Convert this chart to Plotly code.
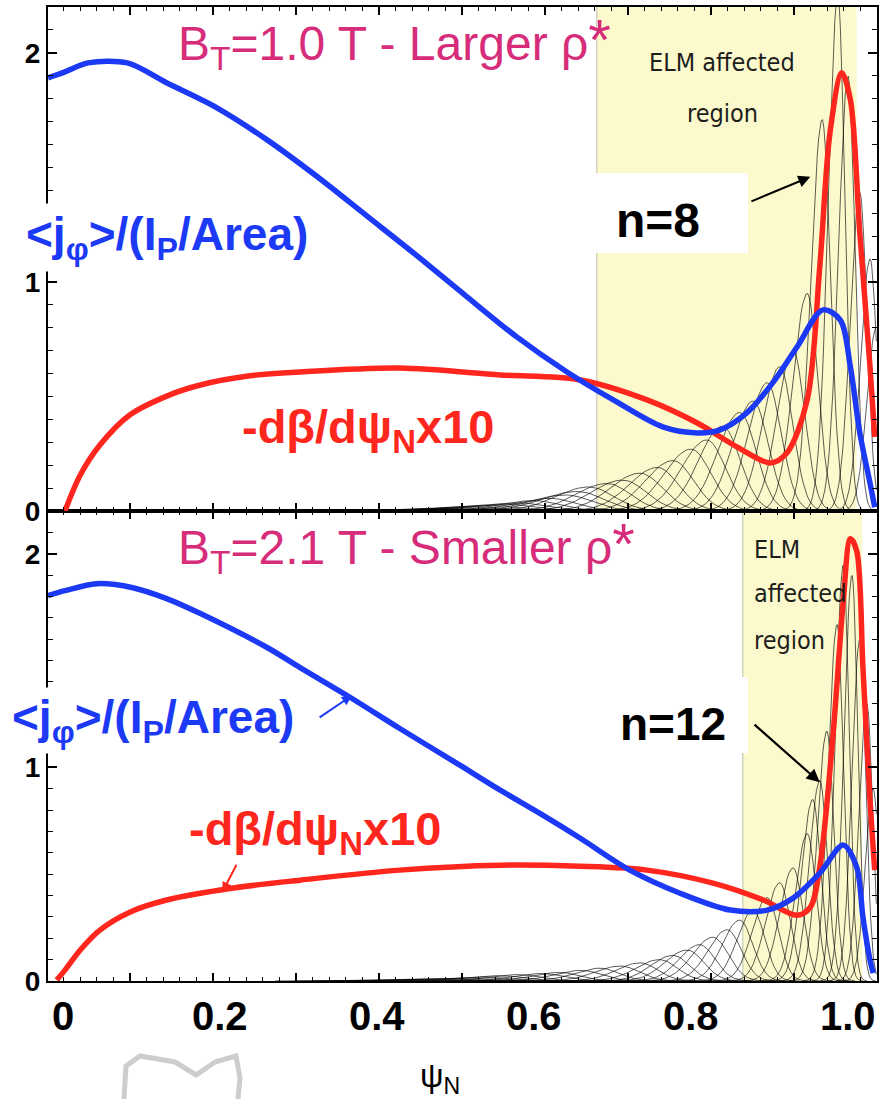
import numpy as np
import plotly.graph_objects as go

# ---------------- data ----------------
psi_ticks = [0, 0.2, 0.4, 0.6, 0.8, 1.0]
psi_tick_text = ["0", "0.2", "0.4", "0.6", "0.8", "1.0"]

# top panel (B_T = 1.0 T)
top_j_x = [-0.019, 0.0025, 0.032, 0.082, 0.132, 0.196, 0.260, 0.324, 0.387, 0.451, 0.515, 0.578,
           0.642, 0.701, 0.764, 0.808, 0.837, 0.871, 0.904, 0.935, 0.968, 0.990, 1.003,
           1.015, 1.028, 1.034]
top_j_y = [1.891, 1.917, 1.956, 1.956, 1.869, 1.760, 1.620, 1.459, 1.288, 1.114, 0.934, 0.760,
           0.607, 0.485, 0.367, 0.341, 0.354, 0.428, 0.559, 0.716, 0.878, 0.834, 0.629,
           0.341, 0.122, 0.017]
top_p_x = [0.0025, 0.022, 0.047, 0.085, 0.136, 0.175, 0.238, 0.302, 0.429, 0.557, 0.659, 0.744,
           0.808, 0.859, 0.901, 0.922, 0.948, 0.964, 0.977, 0.992, 1.003, 1.015, 1.028, 1.034]
top_p_y = [0.0, 0.157, 0.288, 0.419, 0.507, 0.550, 0.590, 0.607, 0.624, 0.594, 0.572, 0.485,
           0.384, 0.279, 0.210, 0.253, 0.485, 1.066, 1.651, 1.913, 1.795, 1.214, 0.629, 0.323]

# bottom panel (B_T = 2.1 T)
bot_j_x = [-0.019, 0.0025, 0.043, 0.089, 0.132, 0.175, 0.260, 0.302, 0.366, 0.429, 0.506, 0.557,
           0.608, 0.659, 0.722, 0.786, 0.850, 0.897, 0.930, 0.964, 0.994, 1.011, 1.019, 1.028, 1.032]
bot_j_y = [1.804, 1.827, 1.860, 1.841, 1.790, 1.720, 1.561, 1.467, 1.327, 1.182, 1.009, 0.893,
           0.783, 0.668, 0.519, 0.411, 0.332, 0.332, 0.388, 0.505, 0.636, 0.533, 0.299, 0.098, 0.037]
bot_p_x = [-0.008, 0.0025, 0.022, 0.047, 0.085, 0.132, 0.217, 0.302, 0.429, 0.557, 0.659, 0.744,
           0.828, 0.892, 0.935, 0.952, 0.964, 0.981, 0.994, 1.003, 1.011, 1.019, 1.028, 1.034]
bot_p_y = [0.005, 0.051, 0.145, 0.238, 0.322, 0.379, 0.435, 0.472, 0.519, 0.542, 0.537, 0.519,
           0.458, 0.379, 0.308, 0.346, 0.533, 1.159, 1.780, 2.070, 2.014, 1.467, 0.846, 0.519]

# individual eigenmode envelopes (peak position, peak height, width)
top_mode_x0 = [0.46, 0.48, 0.50, 0.52, 0.54, 0.56, 0.58, 0.60, 0.62, 0.64, 0.655, 0.67, 0.693,
               0.713, 0.735, 0.757, 0.777, 0.80, 0.82, 0.84, 0.862, 0.879, 0.897, 0.913, 0.93,
               0.948, 0.967, 0.987, 1.0, 1.015, 1.028, 1.036]
top_mode_h = [0.010, 0.012, 0.015, 0.02, 0.025, 0.03, 0.035, 0.045, 0.055, 0.07, 0.085, 0.105,
              0.12, 0.135, 0.165, 0.19, 0.22, 0.27, 0.31, 0.37, 0.43, 0.48, 0.56, 0.63, 0.70,
              0.95, 1.71, 2.25, 1.90, 1.39, 1.10, 0.80]
top_mode_w = [0.05, 0.05, 0.05, 0.05, 0.05, 0.05, 0.05, 0.045, 0.045, 0.045, 0.045, 0.042, 0.04,
              0.04, 0.038, 0.036, 0.035, 0.034, 0.032, 0.03, 0.028, 0.026, 0.024, 0.022, 0.02,
              0.018, 0.014, 0.012, 0.012, 0.012, 0.012, 0.012]

bot_mode_x0 = [0.43, 0.455, 0.48, 0.506, 0.53, 0.557, 0.58, 0.61, 0.633, 0.66, 0.684, 0.71, 0.735,
               0.76, 0.777, 0.795, 0.811, 0.828, 0.846, 0.862, 0.879, 0.897, 0.913, 0.93, 0.948,
               0.955, 0.964, 0.973, 0.986, 0.994, 1.005, 1.015, 1.024, 1.032]
bot_mode_h = [0.008, 0.01, 0.012, 0.015, 0.02, 0.025, 0.03, 0.035, 0.04, 0.05, 0.06, 0.07, 0.085,
              0.10, 0.12, 0.145, 0.17, 0.205, 0.24, 0.285, 0.33, 0.39, 0.46, 0.53, 0.69,
              0.85, 0.94, 1.17, 1.67, 1.95, 1.90, 1.60, 1.30, 0.90]
bot_mode_w = [0.04, 0.04, 0.04, 0.04, 0.038, 0.038, 0.036, 0.036, 0.034, 0.034, 0.032, 0.032, 0.03,
              0.03, 0.028, 0.028, 0.026, 0.026, 0.024, 0.022, 0.02, 0.019, 0.018, 0.017, 0.015,
              0.014, 0.013, 0.012, 0.011, 0.01, 0.01, 0.01, 0.01, 0.01]

top_elm = [0.680, 1.011]
bot_elm = [0.866, 1.018]

# ---------------- styling ----------------
W, H = 880, 1099
BLUE = "rgb(28,58,245)"
RED = "rgb(255,38,30)"
MAGENTA = "rgb(214,44,122)"
FONT = "Liberation Sans, Arial, Helvetica, sans-serif"
NARROW = "Liberation Sans Narrow, DejaVu Sans Condensed, Arial Narrow, sans-serif"
X_RANGE = [-0.0191, 1.0369]


def px(x):
    return min(1.0, max(0.0, x / W))


def py(y):
    return min(1.0, max(0.0, 1 - y / H))


def mode_traces(x0s, hs, ws, xref, yref):
    xs, ys = [], []
    for x0, h, w in zip(x0s, hs, ws):
        xx = np.linspace(max(x0 - 4 * w, X_RANGE[0]), min(x0 + 3 * w, 1.036), 60)
        wl, wr = w, 0.75 * w
        s = np.where(xx < x0, (xx - x0) / wl, (xx - x0) / wr)
        yy = h * np.exp(-0.5 * s ** 2)
        xs += list(xx) + [None]
        ys += list(yy) + [None]
    return go.Scatter(x=xs, y=ys, mode="lines", xaxis=xref, yaxis=yref,
                      line=dict(color="rgba(0,0,0,0.8)", width=0.8), hoverinfo="skip")


fig = go.Figure()

# eigenmode families
fig.add_trace(mode_traces(top_mode_x0, top_mode_h, top_mode_w, "x2", "y2"))
fig.add_trace(mode_traces(bot_mode_x0, bot_mode_h, bot_mode_w, "x", "y"))

# profiles
for xs, ys, col, xa, ya in [
    (top_p_x, top_p_y, RED, "x2", "y2"),
    (top_j_x, top_j_y, BLUE, "x2", "y2"),
    (bot_p_x, bot_p_y, RED, "x", "y"),
    (bot_j_x, bot_j_y, BLUE, "x", "y"),
]:
    fig.add_trace(go.Scatter(x=xs, y=ys, mode="lines", xaxis=xa, yaxis=ya,
                             line=dict(color=col, width=5.5, shape="spline", smoothing=0.9),
                             cliponaxis=True, hoverinfo="skip"))

axis_common = dict(showline=True, linewidth=2, linecolor="black", mirror="ticks",
                   showgrid=False, zeroline=False, automargin=False)
xcommon = dict(axis_common, range=X_RANGE, domain=[px(48), px(877)], tickmode="linear",
               tick0=0.0854, dtick=0.1057, ticks="inside", ticklen=8, tickwidth=1.5,
               tickcolor="black", showticklabels=False,
               minor=dict(ticks="inside", ticklen=4, tickwidth=1, tickcolor="black",
                          tick0=0.0854, dtick=0.02114))
ycommon = dict(axis_common, range=[0, 2.2], tickmode="linear", tick0=0, dtick=1,
               ticks="inside", ticklen=9, tickwidth=1.5, tickcolor="black",
               tickfont=dict(family=FONT, size=28, color="black", weight="bold"),
               minor=dict(ticks="inside", ticklen=5, tickwidth=1, tickcolor="black", dtick=0.1))

fig.update_layout(
    width=W, height=H, margin=dict(l=0, r=0, t=0, b=0),
    paper_bgcolor="white", plot_bgcolor="white", showlegend=False,
    xaxis=dict(xcommon, anchor="y"),
    xaxis2=dict(xcommon, anchor="y2", matches="x"),
    yaxis=dict(ycommon, domain=[py(981), py(511)], anchor="x"),
    yaxis2=dict(ycommon, domain=[py(511), py(7)], anchor="x2"),
)

# ELM affected regions
for (a, b), xr, yr in [(top_elm, "x2", "y2 domain"), (bot_elm, "x", "y domain")]:
    fig.add_shape(type="rect", xref=xr, yref=yr, x0=a, x1=b, y0=0, y1=1,
                  fillcolor="rgb(252,250,204)", line=dict(width=0), layer="below")
    fig.add_shape(type="line", xref=xr, yref=yr, x0=a, x1=a, y0=0, y1=1,
                  line=dict(color="rgb(190,190,170)", width=1), layer="below")

# white boxes behind the n labels
for x0, x1, y0, y1 in [(596, 748, 173, 253), (580, 748, 677, 753)]:
    fig.add_shape(type="rect", xref="paper", yref="paper", x0=px(x0), x1=px(x1),
                  y0=py(y1), y1=py(y0), fillcolor="white", line=dict(width=0), layer="above")

ann = []
# x tick labels
for v, t in zip(psi_ticks, psi_tick_text):
    ann.append(dict(x=v, xref="x", y=py(1016), yref="paper", text=t, showarrow=False,
                    font=dict(family=FONT, size=40, color="black", weight="bold"),
                    xanchor="center", yanchor="middle"))
# axis title
ann.append(dict(x=px(440), y=py(1078), xref="paper", yref="paper", text="ψ<sub>N</sub>",
                showarrow=False, font=dict(family=FONT, size=33, color="black"),
                xanchor="center", yanchor="middle"))

# panel titles
star = '<span style="font-size:58px">*</span>'
ann.append(dict(x=px(176), y=py(42), xref="paper", yref="paper",
                text="B<sub>T</sub>=1.0 T - Larger ρ" + star, showarrow=False,
                font=dict(family=FONT, size=48, color=MAGENTA), xanchor="left", yanchor="middle"))
ann.append(dict(x=px(176), y=py(546), xref="paper", yref="paper",
                text="B<sub>T</sub>=2.1 T - Smaller ρ" + star, showarrow=False,
                font=dict(family=FONT, size=48, color=MAGENTA), xanchor="left", yanchor="middle"))

# curve labels
jlab = "<b>&lt;j<sub>φ</sub>&gt;/(I<sub>P</sub>/Area)</b>"
plab = "<b>-dβ/dψ<sub>N</sub>x10</b>"
ann.append(dict(x=px(167), y=py(238), xref="paper", yref="paper", text=jlab, showarrow=False,
                font=dict(family=FONT, size=46, color=BLUE), bgcolor="white", borderpad=4,
                xanchor="center", yanchor="middle"))
ann.append(dict(x=px(153), y=py(720), xref="paper", yref="paper", text=jlab, showarrow=False,
                font=dict(family=FONT, size=46, color=BLUE), bgcolor="white", borderpad=3,
                xanchor="center", yanchor="middle"))
ann.append(dict(x=px(368), y=py(430), xref="paper", yref="paper", text=plab, showarrow=False,
                font=dict(family=FONT, size=47, color=RED), xanchor="center", yanchor="middle"))
ann.append(dict(x=px(315), y=py(832), xref="paper", yref="paper", text=plab, showarrow=False,
                font=dict(family=FONT, size=47, color=RED), xanchor="center", yanchor="middle"))

# n labels
ann.append(dict(x=px(658), y=py(220), xref="paper", yref="paper", text="<b>n=8</b>",
                showarrow=False, font=dict(family=FONT, size=48, color="black"),
                xanchor="center", yanchor="middle"))
ann.append(dict(x=px(673), y=py(724), xref="paper", yref="paper", text="<b>n=12</b>",
                showarrow=False, font=dict(family=FONT, size=46, color="black"),
                xanchor="center", yanchor="middle"))

# ELM texts
elm_font = dict(family=NARROW, size=25, color="rgb(30,30,30)")
ann.append(dict(x=px(722), y=py(62), xref="paper", yref="paper", text="ELM affected",
                showarrow=False, font=elm_font, xanchor="center", yanchor="middle"))
ann.append(dict(x=px(722), y=py(114), xref="paper", yref="paper", text="region",
                showarrow=False, font=elm_font, xanchor="center", yanchor="middle"))
for t, yy in [("ELM", 549), ("affected", 593), ("region", 640)]:
    ann.append(dict(x=px(752), y=py(yy), xref="paper", yref="paper", text=t,
                    showarrow=False, font=elm_font, xanchor="left", yanchor="middle"))

# arrows
ann.append(dict(x=0.952, y=1.459, xref="x2", yref="y2", ax=0.875, ay=1.349, axref="x2",
                ayref="y2", text="", showarrow=True, arrowhead=2, arrowsize=1.2,
                arrowwidth=2, arrowcolor="black"))
ann.append(dict(x=0.964, y=0.930, xref="x", yref="y", ax=0.879, ay=1.206, axref="x",
                ayref="y", text="", showarrow=True, arrowhead=2, arrowsize=1.2,
                arrowwidth=2.2, arrowcolor="black"))
ann.append(dict(x=0.368, y=1.336, xref="x", yref="y", ax=0.325, ay=1.229, axref="x",
                ayref="y", text="", showarrow=True, arrowhead=2, arrowsize=1,
                arrowwidth=2, arrowcolor=BLUE))
ann.append(dict(x=0.203, y=0.416, xref="x", yref="y", ax=0.222, ay=0.551, axref="x",
                ayref="y", text="", showarrow=True, arrowhead=2, arrowsize=1,
                arrowwidth=2, arrowcolor=RED))

fig.update_layout(annotations=ann)

# faint grey outline sketch at the lower left
fig.add_shape(type="path", xref="paper", yref="paper",
              path=("M {} {} L {} {} L {} {} L {} {} L {} {} L {} {} L {} {} L {} {} L {} {}".format(
                  px(124), py(1099), px(126), py(1066), px(140), py(1056), px(175), py(1062),
                  px(196), py(1075), px(215), py(1062), px(236), py(1056), px(240), py(1078),
                  px(238), py(1099))),
              line=dict(color="rgb(205,205,205)", width=5), layer="above")

fig.write_html("out.html", config={"displayModeBar": False},
               post_script="document.body.style.margin='0';document.body.style.overflow='hidden';")
